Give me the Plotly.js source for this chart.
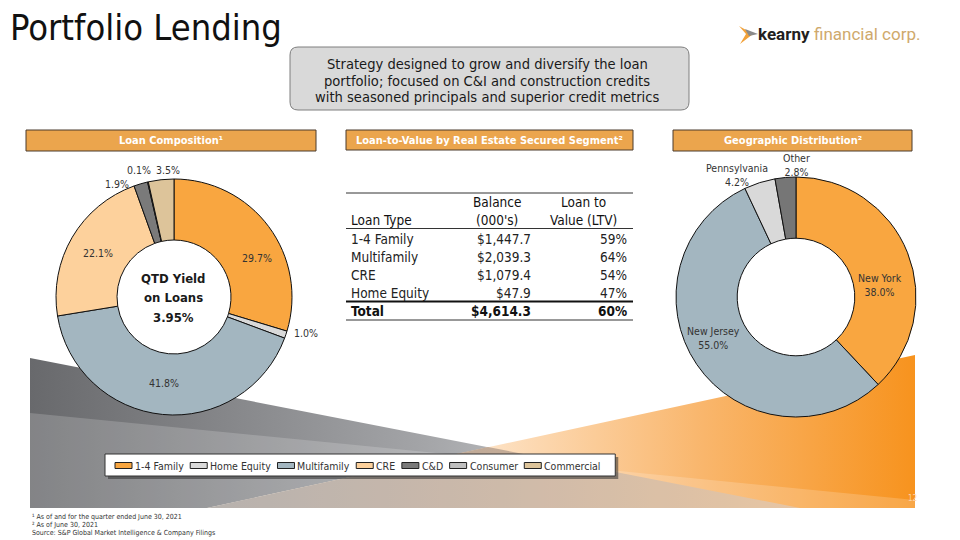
<!DOCTYPE html>
<html><head><meta charset="utf-8">
<script src="https://cdn.plot.ly/plotly-3.0.1.min.js"></script>
<style>
html,body{margin:0;padding:0;background:#fff;}
#wrap{position:relative;width:960px;height:540px;overflow:hidden;background:#fff;}
#bg{position:absolute;left:0;top:0;}
#chart{position:absolute;left:0;top:0;width:960px;height:540px;}
</style></head><body>
<div id="wrap">
<svg id="bg" width="960" height="540" xmlns="http://www.w3.org/2000/svg">
<defs>
<linearGradient id="gG" gradientUnits="userSpaceOnUse" x1="30" y1="0" x2="800" y2="0">
<stop offset="0" stop-color="#68696c"/><stop offset="0.5" stop-color="#a2a3a6"/><stop offset="0.8" stop-color="#cfd0d2"/><stop offset="1" stop-color="#e2e2e3"/>
</linearGradient>
<linearGradient id="gO" gradientUnits="userSpaceOnUse" x1="207" y1="0" x2="915" y2="0">
<stop offset="0" stop-color="#fff4e8"/><stop offset="0.4" stop-color="#fde1c3"/><stop offset="0.7" stop-color="#f9b66c"/><stop offset="1" stop-color="#f7931e"/>
</linearGradient>
<linearGradient id="gT" gradientUnits="userSpaceOnUse" x1="207" y1="0" x2="800" y2="0">
<stop offset="0" stop-color="#a7a19d"/><stop offset="0.5" stop-color="#c3ab97"/><stop offset="1" stop-color="#e2b98f"/>
</linearGradient>
</defs>
<polygon points="30,358 800,508 30,508" fill="url(#gG)"/>
<polygon points="915,355 915,508 207,508" fill="url(#gO)"/>
<polygon points="207,508 488,447 800,508" fill="url(#gT)"/>
<polygon points="30,413 915,500 915,508 30,508" fill="#ffffff" fill-opacity="0.18"/>
<polygon points="739,26 753,34 740,44 746,34" fill="#f2a23a"/>
<polygon points="745,29 758,34 749,36" fill="#8a8a8a"/>
</svg>
<div id="chart"></div>
</div>
<script>
const W = 960, H = 540;
const F = '"DejaVu Sans Condensed","DejaVu Sans",sans-serif';
const FN = '"Liberation Sans Narrow","DejaVu Sans Condensed",sans-serif';

// ---------- data ----------
const loanCategories = ['1-4 Family', 'Home Equity', 'Multifamily', 'CRE', 'C&D', 'Consumer', 'Commercial'];
const loanShares = [29.7, 1.0, 41.8, 22.1, 1.9, 0.1, 3.5];
const loanColors = ['#f9a640', '#d9d9d9', '#a3b6c0', '#fdd19c', '#7a7a7a', '#bfbfbf', '#ddc49a'];

const geoRegions = ['New York', 'New Jersey', 'Pennsylvania', 'Other'];
const geoShares = [38.0, 55.0, 4.2, 2.8];
const geoColors = ['#f9a640', '#a3b6c0', '#d9d9d9', '#767676'];

const qtdYield = 3.95;

const tableTypes = ['1-4 Family', 'Multifamily', 'CRE', 'Home Equity'];
const tableBalances = [1447.7, 2039.3, 1079.4, 47.9];
const tableLtv = [59, 64, 54, 47];
const totalBalance = 4614.3;
const totalLtv = 60;

const strategyLines = ['Strategy designed to grow and diversify the loan',
  'portfolio; focused on C&amp;I and construction credits',
  'with seasoned principals and superior credit metrics'];
const footnotes = ['\u00b9 As of and for the quarter ended June 30, 2021',
  '\u00b2 As of June 30, 2021',
  'Source: S&amp;P Global Market Intelligence &amp; Company Filings'];

// ---------- layout-only positions of the slice labels (pixels) ----------
const loanLabelPos = [[257, 258], [306, 333], [164, 383], [97.5, 253], [117, 184], [138.5, 170], [167.5, 170]];
const geoLabelPos = [[880, 285], [713, 338], [737, 175], [796, 165]];

// ---------- helpers ----------
const px = x => x / W, py = y => 1 - y / H;
function T(text, x, y, o = {}) {
  return {text: text, x: px(x), y: py(y), xref: 'paper', yref: 'paper', showarrow: false,
    xanchor: o.xa || 'center', yanchor: o.ya || 'middle', align: o.al || 'center',
    font: {family: o.f || F, size: o.s || 12, color: o.c || '#222', weight: o.w || 'normal'}};
}
function R(x0, y0, x1, y1, fill, lc, lw, layer) {
  return {type: 'rect', xref: 'paper', yref: 'paper', x0: px(x0), x1: px(x1), y0: py(y1), y1: py(y0),
    fillcolor: fill, line: {color: lc || 'rgba(0,0,0,0)', width: lw || 0}, layer: layer || 'below'};
}
function L(x0, y0, x1, y1, c, w) {
  return {type: 'line', xref: 'paper', yref: 'paper', x0: px(x0), x1: px(x1), y0: py(y0), y1: py(y1),
    line: {color: c, width: w}, layer: 'above'};
}
function RR(x0, y0, x1, y1, r, fill, lc, lw) {
  const P = (x, y) => px(x) + ',' + py(y);
  const d = 'M' + P(x0 + r, y0) + ' L' + P(x1 - r, y0) + ' Q' + P(x1, y0) + ' ' + P(x1, y0 + r) +
    ' L' + P(x1, y1 - r) + ' Q' + P(x1, y1) + ' ' + P(x1 - r, y1) +
    ' L' + P(x0 + r, y1) + ' Q' + P(x0, y1) + ' ' + P(x0, y1 - r) +
    ' L' + P(x0, y0 + r) + ' Q' + P(x0, y0) + ' ' + P(x0 + r, y0) + ' Z';
  return {type: 'path', xref: 'paper', yref: 'paper', path: d, fillcolor: fill, line: {color: lc, width: lw}, layer: 'below'};
}
const money = v => '$' + v.toLocaleString('en-US', {minimumFractionDigits: 1, maximumFractionDigits: 1});

const shapes = [], anns = [];

// title + logo
anns.push(T('Portfolio Lending', 8, 27, {xa: 'left', s: 36, c: '#111'}));
anns.push(T('kearny', 812, 34, {xa: 'right', s: 17, c: '#231f20', w: 'bold', f: 'Roboto, sans-serif'}));
anns.push(T('financial corp.', 812, 34, {xa: 'left', s: 17, c: '#cfa96c', w: 'normal', f: 'Roboto, sans-serif'}));

// strategy box
shapes.push(RR(290, 47, 689, 110, 8, '#d9d9d9', '#7f7f7f', 1));
strategyLines.forEach((t, i) => anns.push(T(t, 487, 63 + i * 17, {s: 14.6, c: '#1a1a1a'})));

// section header bars
const bars = [[26, 130, 316, 151, 'Loan Composition\u00b9'],
  [346, 130, 633, 150, 'Loan-to-Value by Real Estate Secured Segment\u00b2'],
  [673, 130, 912, 151, 'Geographic Distribution\u00b2']];
bars.forEach(b => {
  shapes.push(R(b[0], b[1], b[2], b[3], '#eba54d', '#4a3b2c', 1));
  anns.push(T(b[4], (b[0] + b[2]) / 2, (b[1] + b[3]) / 2, {s: 11, c: '#ffffff', w: 'bold'}));
});

// table
const tL = 346, tR = 633, cBal = 533, cLtv = 629, cType = 349;
shapes.push(L(tL, 193, tR, 193, '#333', 1));
shapes.push(L(tL, 228.5, tR, 228.5, '#333', 1));
shapes.push(L(tL, 301.5, tR, 301.5, '#111', 2));
shapes.push(L(tL, 320, tR, 320, '#333', 1));
const hdr = {s: 13.5, c: '#111', w: 500};
anns.push(T('Balance', 497, 202, hdr));
anns.push(T("(000's)", 497, 220, hdr));
anns.push(T('Loan to', 583, 202, hdr));
anns.push(T('Value (LTV)', 583, 220, hdr));
anns.push(T('Loan Type', cType, 220, Object.assign({xa: 'left'}, hdr)));
tableTypes.forEach((t, i) => {
  const y = 238.5 + i * 18;
  anns.push(T(t, cType, y, {xa: 'left', s: 13.5, c: '#222'}));
  anns.push(T(money(tableBalances[i]), cBal, y, {xa: 'right', s: 13.5, c: '#222'}));
  anns.push(T(tableLtv[i] + '%', cLtv, y, {xa: 'right', s: 13.5, c: '#222'}));
});
anns.push(T('Total', cType, 311, {xa: 'left', s: 13.5, c: '#111', w: 'bold'}));
anns.push(T(money(totalBalance), cBal, 311, {xa: 'right', s: 13.5, c: '#111', w: 'bold'}));
anns.push(T(totalLtv + '%', cLtv, 311, {xa: 'right', s: 13.5, c: '#111', w: 'bold'}));

// donut centre text
['QTD Yield', 'on Loans', qtdYield.toFixed(2) + '%'].forEach((t, i) =>
  anns.push(T(t, 173, 278 + i * 19.5, {s: 13, c: '#1a1a1a', w: 'bold'})));

// slice labels (text from the data, positions from the layout table above)
loanShares.forEach((v, i) => anns.push(T(v.toFixed(1) + '%', loanLabelPos[i][0], loanLabelPos[i][1], {s: 10.5, c: '#333'})));
geoShares.forEach((v, i) => anns.push(T(geoRegions[i] + '<br>' + v.toFixed(1) + '%', geoLabelPos[i][0], geoLabelPos[i][1], {s: 10.5, c: '#333'})));

// custom legend for loan composition
const ctx = document.createElement('canvas').getContext('2d');
ctx.font = '10.5px "DejaVu Sans Condensed", "DejaVu Sans", sans-serif';
let lx = 115;
const legShapes = [], legAnns = [];
loanCategories.forEach((c, i) => {
  legShapes.push(R(lx, 462.5, lx + 17, 468.5, loanColors[i], '#222', 1, 'above'));
  legAnns.push(T(c.replace('&', '&amp;'), lx + 18, 465.5, {xa: 'left', s: 10.5, c: '#333'}));
  lx += 18 + ctx.measureText(c).width + 8.5;
});
shapes.push(R(108, 457, lx + 11, 479, 'rgba(50,50,50,0.55)'));
shapes.push(R(105, 454, lx + 8, 476, '#ffffff', '#333', 1));
shapes.push(...legShapes);
anns.push(...legAnns);

// page number + footnotes
anns.push(T('12', 912, 498, {s: 8, c: '#fcd2a4'}));
footnotes.forEach((t, i) => anns.push(T(t, 30, 517 + i * 8, {xa: 'left', s: 7, c: '#333', f: FN})));

// ---------- traces ----------
const pieLoan = {
  type: 'pie', labels: loanCategories, values: loanShares, sort: false, direction: 'clockwise', rotation: 0,
  hole: 0.483, domain: {x: [px(56), px(292)], y: [py(415), py(179)]},
  marker: {colors: loanColors, line: {color: '#111', width: 1}},
  textinfo: 'none', hoverinfo: 'none', showlegend: false
};
const pieGeo = {
  type: 'pie', labels: geoRegions, values: geoShares, sort: false, direction: 'clockwise', rotation: 0,
  hole: 0.49, domain: {x: [px(676), px(916)], y: [py(417), py(177)]},
  marker: {colors: geoColors, line: {color: '#111', width: 1}},
  textinfo: 'none', hoverinfo: 'none', showlegend: false
};

const layout = {
  width: W, height: H, margin: {l: 0, r: 0, t: 0, b: 0},
  paper_bgcolor: 'rgba(0,0,0,0)', plot_bgcolor: 'rgba(0,0,0,0)',
  showlegend: false, shapes: shapes, annotations: anns,
  font: {family: F}
};
Plotly.newPlot('chart', [pieLoan, pieGeo], layout, {staticPlot: true, displayModeBar: false});
</script>
</body></html>
